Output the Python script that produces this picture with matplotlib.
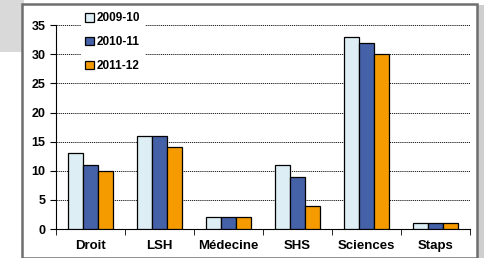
import numpy as np
import matplotlib.pyplot as plt
from matplotlib.patches import Rectangle

# --- data ---
categories = ['Droit', 'LSH', 'Médecine', 'SHS', 'Sciences', 'Staps']
years = ['2009-10', '2010-11', '2011-12']
v_2009 = [13, 16, 2, 11, 33, 1]
v_2010 = [11, 16, 2, 9, 32, 1]
v_2011 = [10, 14, 2, 4, 30, 1]
colors = ['#DDEEF5', '#4561A8', '#F59B00']

plt.rcParams['font.family'] = ['Liberation Sans', 'DejaVu Sans']

fig = plt.figure(figsize=(4.84, 2.58), dpi=100)

# frame with a soft shadow
fig.patches.append(Rectangle((0.0, 0.80), 0.05, 0.2, transform=fig.transFigure,
                             facecolor='#d9d9d9', edgecolor='none', zorder=0))
fig.patches.append(Rectangle((0.985, 0.0), 0.015, 0.98, transform=fig.transFigure,
                             facecolor='#cfcfcf', edgecolor='none', zorder=0))
fig.patches.append(Rectangle((0.046, 0.0), 0.94, 0.985, transform=fig.transFigure,
                             facecolor='white', edgecolor='#6e6e6e', linewidth=1.8, zorder=1))

ax = fig.add_axes([0.1157, 0.1124, 0.855, 0.79])
ax.set_zorder(2)
ax.patch.set_alpha(0)

x = np.arange(len(categories))
w = 0.217
for i, (vals, lab) in enumerate(zip([v_2009, v_2010, v_2011], years)):
    ax.bar(x + (i - 1) * w, vals, w, color=colors[i], edgecolor='black',
           linewidth=0.9, label=lab, zorder=3)

ax.set_xlim(-0.5, len(categories) - 0.5)
ax.set_ylim(0, 35)
ax.set_yticks(range(0, 36, 5))
ax.yaxis.grid(True, color='black', linestyle=(0, (1.5, 1)), linewidth=0.6, zorder=1)

ax.set_xticks(x)
ax.set_xticklabels(categories, fontweight='bold', fontsize=9.5)
ax.set_xticks(np.arange(len(categories) + 1) - 0.5, minor=True)
ax.tick_params(axis='x', which='major', length=0, pad=8)
ax.tick_params(axis='x', which='minor', length=4, direction='out')
ax.tick_params(axis='y', length=4, direction='out', labelsize=9)
for t in ax.get_yticklabels():
    t.set_fontweight('bold')

for s in ['top', 'right']:
    ax.spines[s].set_visible(False)

leg = ax.legend(loc='upper left', bbox_to_anchor=(0.045, 1.115), frameon=True,
                fancybox=False, edgecolor='none', facecolor='white', framealpha=1,
                prop={'weight': 'bold', 'size': 8.5}, handlelength=0.75, handleheight=0.75,
                handletextpad=0.25, labelspacing=1.0, borderpad=0.4)
leg.set_zorder(4)

fig.savefig('out.png', dpi=100)
